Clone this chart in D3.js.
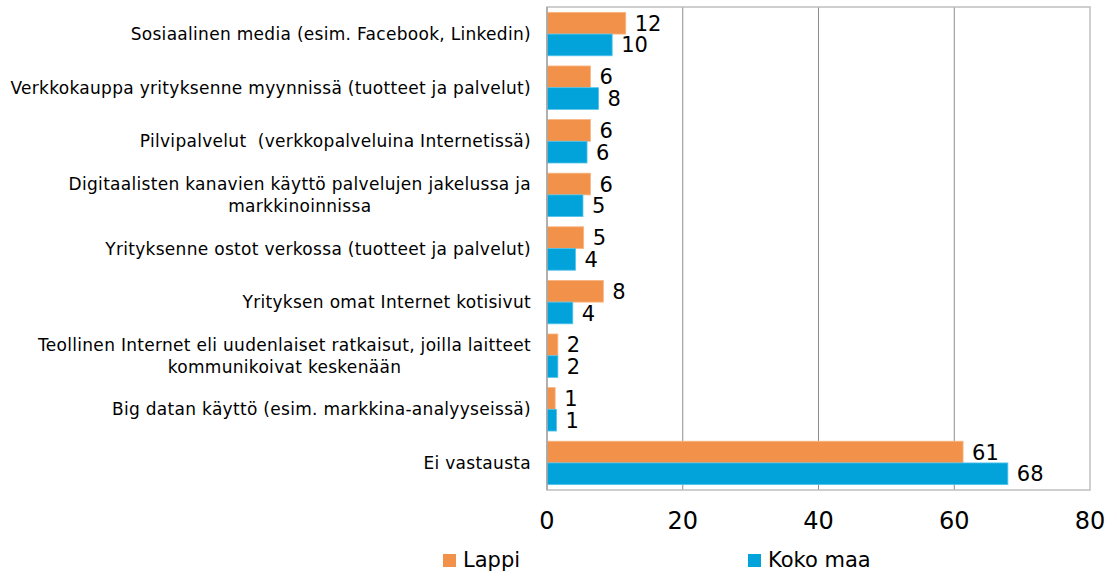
<!DOCTYPE html>
<html lang="fi">
<head>
<meta charset="utf-8">
<title>Digitaalisten palvelujen käyttö</title>
<script src="https://cdnjs.cloudflare.com/ajax/libs/d3/7.8.5/d3.min.js"></script>
<style>
  body { margin: 0; background: #fff; }
  svg { display: block; font-family: "DejaVu Sans", sans-serif; }
  .cat { white-space: pre; }
</style>
</head>
<body>
<div id="chart"></div>
<script>
// data (percent)
const categories = [
  "Sosiaalinen media (esim. Facebook, Linkedin)",
  "Verkkokauppa yrityksenne myynnissä (tuotteet ja palvelut)",
  "Pilvipalvelut  (verkkopalveluina Internetissä)",
  "Digitaalisten kanavien käyttö palvelujen jakelussa ja\nmarkkinoinnissa",
  "Yrityksenne ostot verkossa (tuotteet ja palvelut)",
  "Yrityksen omat Internet kotisivut",
  "Teollinen Internet eli uudenlaiset ratkaisut, joilla laitteet\nkommunikoivat keskenään",
  "Big datan käyttö (esim. markkina-analyyseissä)",
  "Ei vastausta"
];
const seriesNames = ["Lappi", "Koko maa"];
const lappi   = [11.6, 6.4, 6.4, 6.4, 5.4, 8.3, 1.6, 1.2, 61.3];
const kokoMaa = [9.6, 7.6, 5.9, 5.3, 4.2, 3.8, 1.6, 1.4, 67.9];
const xTicks = [0, 20, 40, 60, 80];

const colors = { "Lappi": "#F2914A", "Koko maa": "#02A3DA" };
const strokes = { "Lappi": "#F8B582", "Koko maa": "#55C3EA" };

const width = 1117, height = 576;
const plotLeft = 547, plotRight = 1090, plotTop = 7, plotBottom = 490;

const svg = d3.select("#chart").append("svg")
  .attr("width", width)
  .attr("height", height);

const x = d3.scaleLinear().domain([0, 80]).range([plotLeft, plotRight]);
const y = d3.scaleBand().domain(categories).range([plotTop, plotBottom])
  .paddingInner(0.19).paddingOuter(0.1);
const ySub = d3.scaleBand().domain(seriesNames).range([0, y.bandwidth()]);

const rows = categories.map((c, i) => ({ cat: c, values: [
  { name: "Lappi", value: lappi[i] },
  { name: "Koko maa", value: kokoMaa[i] }
]}));

// gridlines
svg.append("g")
  .selectAll("line")
  .data(xTicks.slice(1, -1))
  .join("line")
    .attr("x1", d => x(d)).attr("x2", d => x(d))
    .attr("y1", plotTop).attr("y2", plotBottom)
    .attr("stroke", "#8C8C8C")
    .attr("stroke-width", 1);

// plot frame
svg.append("rect")
  .attr("x", plotLeft).attr("y", plotTop)
  .attr("width", plotRight - plotLeft).attr("height", plotBottom - plotTop)
  .attr("fill", "none")
  .attr("stroke", "#BFBFBF")
  .attr("stroke-width", 1.5);

// bars
const groups = svg.append("g").attr("class", "bars")
  .selectAll("g")
  .data(rows)
  .join("g")
    .attr("transform", d => "translate(0," + y(d.cat) + ")");

groups.selectAll("rect")
  .data(d => d.values)
  .join("rect")
    .attr("x", x(0))
    .attr("y", d => ySub(d.name))
    .attr("width", d => x(d.value) - x(0))
    .attr("height", ySub.bandwidth())
    .attr("fill", d => colors[d.name])
    .attr("stroke", d => strokes[d.name])
    .attr("stroke-width", 0.8);

// value labels
groups.selectAll("text")
  .data(d => d.values)
  .join("text")
    .attr("x", d => x(d.value) + 9)
    .attr("y", d => ySub(d.name) + ySub.bandwidth() / 2)
    .attr("dy", "0.36em")
    .attr("font-size", 21)
    .attr("fill", "#000")
    .text(d => Math.round(d.value));

// left axis line
svg.append("line")
  .attr("x1", plotLeft).attr("x2", plotLeft)
  .attr("y1", plotTop).attr("y2", plotBottom)
  .attr("stroke", "#A6A6A6")
  .attr("stroke-width", 1.5);

// category labels
const labelX = 531, lineH = 22;
categories.forEach(c => {
  const lines = c.split("\n");
  const cy = y(c) + y.bandwidth() / 2;
  const t = svg.append("text")
    .attr("class", "cat")
    .attr("font-size", 17)
    .attr("letter-spacing", 0.3)
    .attr("fill", "#000")
    .attr("text-anchor", "end");
  lines.forEach((ln, i) => {
    t.append("tspan")
      .attr("x", labelX)
      .attr("y", cy + (i - (lines.length - 1) / 2) * lineH)
      .attr("dy", "0.36em")
      .text(ln);
  });
  if (lines.length > 1) {
    let maxW = 0;
    t.selectAll("tspan").each(function() { maxW = Math.max(maxW, this.getComputedTextLength()); });
    t.attr("text-anchor", "middle");
    t.selectAll("tspan").attr("x", labelX - maxW / 2);
  }
});

// x tick labels
svg.append("g")
  .selectAll("text")
  .data(xTicks)
  .join("text")
    .attr("x", d => x(d))
    .attr("y", 529)
    .attr("text-anchor", "middle")
    .attr("font-size", 24)
    .text(d => d);

// legend
const legendX = [443, 748];
const legend = svg.append("g")
  .selectAll("g")
  .data(seriesNames)
  .join("g")
    .attr("transform", (d, i) => "translate(" + legendX[i] + ",554)");
legend.append("rect")
  .attr("width", 13).attr("height", 13)
  .attr("fill", d => colors[d]);
legend.append("text")
  .attr("x", 20).attr("y", 13)
  .attr("font-size", 21)
  .text(d => d);
</script>
</body>
</html>
